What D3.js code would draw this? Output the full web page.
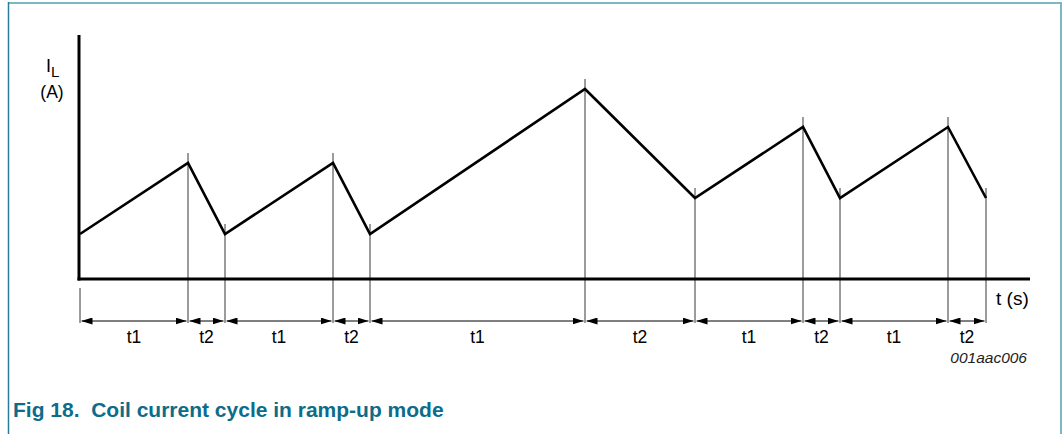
<!DOCTYPE html>
<html lang="en">
<head>
<meta charset="utf-8">
<title>Coil current cycle in ramp-up mode</title>
<script src="https://cdnjs.cloudflare.com/ajax/libs/d3/7.8.5/d3.min.js"></script>
<style>
body { margin: 0; background: #fff; }
text { font-family: "Liberation Sans", Arial, sans-serif; }
</style>
</head>
<body>
<script>

// breakpoints of the coil current (time units, current units)
var times    = [0, 10.8, 14.5, 25.3, 29.0, 50.5, 61.5, 72.3, 76.0, 86.8, 90.6];
var currents = [4.5, 11.6, 4.5, 11.6, 4.5, 19.0, 8.1, 15.2, 8.1, 15.2, 8.1];
var phases   = ["t1", "t2", "t1", "t2", "t1", "t2", "t1", "t2", "t1", "t2"];

var W = 1063, H = 434;

var svg = d3.select("body").append("svg")
	.attr("width", W)
	.attr("height", H);

var x = d3.scaleLinear().domain([0, 95]).range([80, 1030]);
var y = d3.scaleLinear().domain([0, 24.4]).range([279, 35]);

// frame
svg.append("line")
	.attr("x1", 8).attr("y1", 3).attr("x2", 1062).attr("y2", 3)
	.style("stroke", "#7db7c6").style("stroke-width", 2);
svg.append("line")
	.attr("x1", 1061).attr("y1", 2).attr("x2", 1061).attr("y2", H)
	.style("stroke", "#7db7c6").style("stroke-width", 2);
svg.append("line")
	.attr("x1", 8.5).attr("y1", 2).attr("x2", 8.5).attr("y2", H)
	.style("stroke", "#2a7d98").style("stroke-width", 1.5);

// vertical marker lines
var pts = times.map(function(t, i){ return [t, currents[i]]; });

svg.selectAll("line.mark")
	.data(pts)
	.enter()
	.append("line")
	.attr("class", "mark")
	.attr("x1", function(d){ return x(d[0]); })
	.attr("x2", function(d){ return x(d[0]); })
	.attr("y1", function(d, i){ return i === 0 ? 288 : y(d[1]) - 10; })
	.attr("y2", 323)
	.style("stroke", "#222")
	.style("stroke-width", 0.9);

// axes
svg.append("line")
	.attr("x1", x(0) - 1).attr("y1", y(24.4)).attr("x2", x(0) - 1).attr("y2", y(0) + 1.5)
	.style("stroke", "#000").style("stroke-width", 3);
svg.append("line")
	.attr("x1", x(0) - 2.5).attr("y1", y(0)).attr("x2", x(95)).attr("y2", y(0))
	.style("stroke", "#000").style("stroke-width", 3);

// waveform
var line = d3.line()
	.x(function(d){ return x(d[0]); })
	.y(function(d){ return y(d[1]); });

svg.append("path")
	.datum(pts)
	.attr("d", line)
	.style("fill", "none")
	.style("stroke", "#000")
	.style("stroke-width", 2.6)
	.style("stroke-linejoin", "miter");

// arrowhead
var defs = svg.append("defs");
defs.append("marker")
	.attr("id", "ah")
	.attr("viewBox", "0 0 11 7")
	.attr("refX", 11).attr("refY", 3.5)
	.attr("markerWidth", 11).attr("markerHeight", 7)
	.attr("markerUnits", "userSpaceOnUse")
	.attr("orient", "auto-start-reverse")
	.append("path")
	.attr("d", "M0,0 L11,3.5 L0,7 Z")
	.style("fill", "#000");

var arrowY = 321;
var segs = phases.map(function(p, i){ return { label: p, a: times[i], b: times[i + 1] }; });

svg.selectAll("line.dim")
	.data(segs)
	.enter()
	.append("line")
	.attr("class", "dim")
	.attr("x1", function(d){ return x(d.a) + 1.5; })
	.attr("x2", function(d){ return x(d.b) - 1.5; })
	.attr("y1", arrowY).attr("y2", arrowY)
	.style("stroke", "#000")
	.style("stroke-width", 1)
	.attr("marker-start", "url(#ah)")
	.attr("marker-end", "url(#ah)");

svg.selectAll("text.dim")
	.data(segs)
	.enter()
	.append("text")
	.attr("class", "dim")
	.attr("x", function(d){ return (x(d.a) + x(d.b)) / 2; })
	.attr("y", 343)
	.attr("text-anchor", "middle")
	.style("font-size", "17.5px")
	.text(function(d){ return d.label; });

// axis labels
var il = svg.append("text")
	.attr("x", 46).attr("y", 72)
	.style("font-size", "18px");
il.append("tspan").text("I");
il.append("tspan").attr("dy", 5).style("font-size", "15px").text("L");

svg.append("text")
	.attr("x", 52).attr("y", 98)
	.attr("text-anchor", "middle")
	.style("font-size", "17.5px")
	.text("(A)");

svg.append("text")
	.attr("x", 996).attr("y", 305)
	.style("font-size", "19px")
	.text("t (s)");

svg.append("text")
	.attr("x", 1027).attr("y", 363)
	.attr("text-anchor", "end")
	.style("font-size", "15.5px")
	.style("font-style", "italic")
	.style("fill", "#222")
	.text("001aac006");

svg.append("text")
	.attr("x", 13).attr("y", 417)
	.style("font-size", "21px")
	.style("font-weight", "bold")
	.style("fill", "#0d6c89")
	.style("white-space", "pre")
	.text("Fig 18.  Coil current cycle in ramp-up mode");

</script>
</body>
</html>
